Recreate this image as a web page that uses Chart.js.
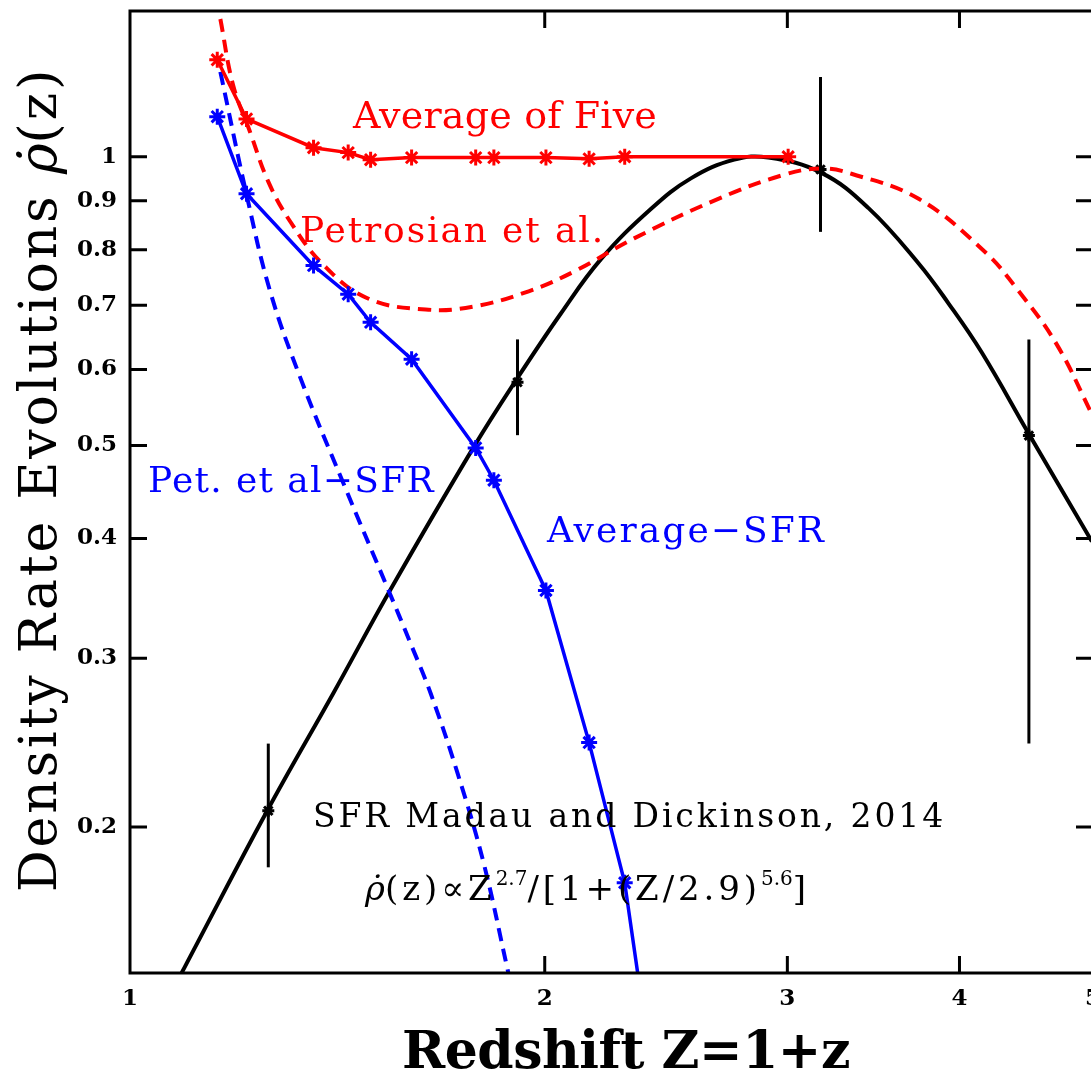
<!DOCTYPE html>
<html lang="en">
  <head>
    <meta charset="UTF-8" />
    <title>Density Rate Evolutions</title>
    <script src="https://cdn.jsdelivr.net/npm/chart.js"></script>
    <style>
      html, body {
        margin: 0;
        padding: 0;
        background: #ffffff;
        overflow: hidden;
      }
      #wrap {
        position: relative;
        width: 1120px;
        height: 1074px;
      }
    </style>
  </head>
  <body>
    <div id="wrap"><canvas id="myChart"></canvas></div>

    <script>
      // Average of five (red solid) and Average-SFR (blue solid) share the same Z grid
      const zAvg = [1.157, 1.215, 1.359, 1.440, 1.495, 1.601, 1.782, 1.837, 2.004, 2.154, 2.286, 3.004];
      const avgFive = [1.262, 1.095, 1.022, 1.010, 0.993, 0.998, 0.998, 0.998, 0.998, 0.995, 1.000, 1.000];
      const avgSfr = [1.101, 0.915, 0.770, 0.719, 0.672, 0.615, 0.497, 0.460, 0.353, 0.245, 0.175, 0.0114];

      // Petrosian et al. (red dashed)
      const zPet = [1.163, 1.188, 1.222, 1.260, 1.307, 1.381, 1.487, 1.639, 1.776, 1.947, 2.100, 2.322, 2.673, 2.985, 3.176, 3.339, 3.736, 4.173, 4.417, 4.707, 4.991];
      const petrosian = [1.392, 1.188, 1.062, 0.942, 0.856, 0.772, 0.712, 0.693, 0.698, 0.724, 0.759, 0.822, 0.904, 0.958, 0.972, 0.960, 0.904, 0.796, 0.724, 0.637, 0.539];

      // Pet. et al - SFR (blue dashed)
      const zPetSfr = [1.163, 1.216, 1.264, 1.329, 1.429, 1.538, 1.598, 1.653, 1.729, 1.806, 1.880, 1.954];
      const petSfr = [1.226, 0.9085, 0.7236, 0.5888, 0.456, 0.355, 0.311, 0.2756, 0.2275, 0.1834, 0.1419, 0.111];

      // SFR Madau & Dickinson 2014 (black)
      const zMadau = [1.052, 1.096, 1.260, 1.405, 1.546, 1.776, 1.911, 2.054, 2.197, 2.388, 2.555, 2.745, 2.906, 3.176, 3.436, 3.736, 3.928, 4.152, 4.492, 4.991];
      const madau = [0.128, 0.143, 0.209, 0.276, 0.354, 0.498, 0.588, 0.686, 0.782, 0.882, 0.950, 0.993, 0.998, 0.962, 0.884, 0.774, 0.703, 0.625, 0.514, 0.397];

      // data points with error bars
      const zErr = [1.260, 1.911, 3.171, 4.492];
      const errVal = [0.208, 0.582, 0.970, 0.512];
      const errHi = [0.2444, 0.645, 1.211, 0.645];
      const errLo = [0.1816, 0.5125, 0.835, 0.2444];

      const xTicks = [1, 2, 3, 4, 5];
      const yTicks = [0.2, 0.3, 0.4, 0.5, 0.6, 0.7, 0.8, 0.9, 1];
      const yTickLabels = ["0.2", "0.3", "0.4", "0.5", "0.6", "0.7", "0.8", "0.9", "1"];

      const pts = (xs, ys) => xs.map((x, i) => ({ x, y: ys[i] }));

      const SERIF = "'DejaVu Serif', serif";

      // draw a list of text runs, spreading letters so the whole thing spans `target` px
      function drawRuns(ctx, runs, x, y, target) {
        let w = 0, n = 0;
        runs.forEach(r => {
          ctx.font = r.font;
          ctx.letterSpacing = "0px";
          w += ctx.measureText(r.text).width;
          if (!r.fixed) n += r.text.length;
        });
        const ls = target ? (target - w) / Math.max(n, 1) : 0;
        let cx = x;
        runs.forEach(r => {
          ctx.font = r.font;
          ctx.letterSpacing = (r.fixed ? 0 : ls) + "px";
          ctx.fillStyle = r.color || "#000";
          ctx.fillText(r.text, cx, y - (r.rise || 0));
          cx += ctx.measureText(r.text).width;
        });
        ctx.letterSpacing = "0px";
      }

      const framePlugin = {
        id: "frame",
        afterDatasetsDraw(chart) {
          const { ctx, chartArea: a, scales } = chart;
          const x = scales.x, y = scales.y;
          ctx.save();
          ctx.strokeStyle = "#000";

          // error bars
          ctx.lineWidth = 3;
          zErr.forEach((z, i) => {
            const px = x.getPixelForValue(z);
            ctx.beginPath();
            ctx.moveTo(px, y.getPixelForValue(errHi[i]));
            ctx.lineTo(px, y.getPixelForValue(errLo[i]));
            ctx.stroke();
          });

          // box
          ctx.lineWidth = 3;
          ctx.strokeRect(a.left, a.top, a.right - a.left, a.bottom - a.top);

          // inward ticks
          const tl = 17;
          ctx.beginPath();
          yTicks.forEach(v => {
            const py = y.getPixelForValue(v);
            ctx.moveTo(a.left, py); ctx.lineTo(a.left + tl, py);
            ctx.moveTo(a.right, py); ctx.lineTo(a.right - tl, py);
          });
          xTicks.slice(1).forEach(v => {
            const px = x.getPixelForValue(v);
            ctx.moveTo(px, a.bottom); ctx.lineTo(px, a.bottom - tl);
            ctx.moveTo(px, a.top); ctx.lineTo(px, a.top + tl);
          });
          ctx.stroke();
          ctx.restore();
        },
        afterDraw(chart) {
          const ctx = chart.ctx;
          ctx.save();
          ctx.textAlign = "left";
          ctx.textBaseline = "alphabetic";

          // curve labels
          drawRuns(ctx, [{ text: "Average of Five", font: "38px " + SERIF, color: "#ff0000" }], 353, 128, 304);
          drawRuns(ctx, [{ text: "Petrosian et al.", font: "36px " + SERIF, color: "#ff0000" }], 300, 242, 305);
          drawRuns(ctx, [{ text: "Pet. et al\u2212SFR", font: "36px " + SERIF, color: "#0000ff" }], 148, 492, 287);
          drawRuns(ctx, [{ text: "Average\u2212SFR", font: "36px " + SERIF, color: "#0000ff" }], 547, 542, 279);
          drawRuns(ctx, [{ text: "SFR Madau and Dickinson, 2014", font: "33px " + SERIF }], 313, 827, 633);
          drawRuns(ctx, [
            { text: "\u03C1\u0307", font: "italic 34px " + SERIF, fixed: true },
            { text: "(z)\u221DZ", font: "34px " + SERIF },
            { text: "2.7", font: "20px " + SERIF, rise: 15, fixed: true },
            { text: "/[1+(Z/2.9)", font: "34px " + SERIF },
            { text: "5.6", font: "20px " + SERIF, rise: 15, fixed: true },
            { text: "]", font: "34px " + SERIF }
          ], 365, 900, 445);

          // x axis title
          drawRuns(ctx, [{ text: "Redshift Z=1+z", font: "bold 52px " + SERIF }], 402, 1068, 448);

          // y axis title (rotated)
          ctx.translate(56, 892);
          ctx.rotate(-Math.PI / 2);
          drawRuns(ctx, [
            { text: "Density Rate Evolutions ", font: "52px " + SERIF },
            { text: "\u03C1\u0307", font: "italic 52px " + SERIF, fixed: true },
            { text: "(z)", font: "52px " + SERIF }
          ], 0, 0, 825);
          ctx.restore();
        }
      };

      const ctx = document.getElementById("myChart").getContext("2d");

      new Chart(ctx, {
        type: "scatter",
        data: {
          datasets: [
            {
              label: "Average-SFR",
              data: pts(zAvg, avgSfr),
              showLine: true,
              borderColor: "#0000ff",
              borderWidth: 3.5,
              pointStyle: "star",
              pointRadius: 8,
              pointBorderWidth: 3,
              pointBorderColor: "#0000ff",
              pointBackgroundColor: "#0000ff"
            },
            {
              label: "Average of Five",
              data: pts(zAvg, avgFive),
              showLine: true,
              borderColor: "#ff0000",
              borderWidth: 3.5,
              pointStyle: "star",
              pointRadius: 8,
              pointBorderWidth: 3,
              pointBorderColor: "#ff0000",
              pointBackgroundColor: "#ff0000"
            },
            {
              label: "Pet. et al-SFR",
              data: pts(zPetSfr, petSfr),
              showLine: true,
              borderColor: "#0000ff",
              borderWidth: 4,
              borderDash: [13, 8],
              tension: 0.4,
              pointRadius: 0
            },
            {
              label: "Petrosian et al.",
              data: pts(zPet, petrosian),
              showLine: true,
              borderColor: "#ff0000",
              borderWidth: 4,
              borderDash: [13, 8],
              tension: 0.4,
              pointRadius: 0
            },
            {
              label: "SFR Madau and Dickinson, 2014",
              data: pts(zMadau, madau),
              showLine: true,
              borderColor: "#000000",
              borderWidth: 4,
              tension: 0.4,
              pointRadius: 0
            },
            {
              label: "data",
              data: pts(zErr, errVal),
              showLine: false,
              pointStyle: "star",
              pointRadius: 6,
              pointBorderWidth: 3,
              pointBorderColor: "#000",
              pointBackgroundColor: "#000"
            }
          ]
        },
        options: {
          responsive: true,
          maintainAspectRatio: false,
          animation: false,
          layout: { padding: { top: 9, right: 27, left: 0, bottom: 0 } },
          plugins: {
            legend: { display: false },
            tooltip: { enabled: false }
          },
          scales: {
            x: {
              type: "logarithmic",
              min: 1,
              max: 5,
              grid: { display: false, drawTicks: false },
              border: { display: false },
              ticks: {
                color: "#000",
                font: { family: "DejaVu Serif", weight: "bold", size: 23 },
                padding: 12,
                maxRotation: 0,
                autoSkip: false,
                callback: v => String(v)
              },
              afterBuildTicks: s => { s.ticks = xTicks.map(v => ({ value: v })); },
              afterFit: s => { s.height = 101; s.paddingLeft = 0; s.paddingRight = 0; }
            },
            y: {
              type: "logarithmic",
              min: 0.1409,
              max: 1.419,
              grid: { display: false, drawTicks: false },
              border: { display: false },
              ticks: {
                color: "#000",
                font: { family: "DejaVu Serif", weight: "bold", size: 23 },
                padding: 13,
                autoSkip: false,
                callback: (v, i) => yTickLabels[i]
              },
              afterBuildTicks: s => { s.ticks = yTicks.map(v => ({ value: v })); },
              afterFit: s => { s.width = 130; s.paddingTop = 0; s.paddingBottom = 0; }
            }
          }
        },
        plugins: [framePlugin]
      });
    </script>
  </body>
</html>
